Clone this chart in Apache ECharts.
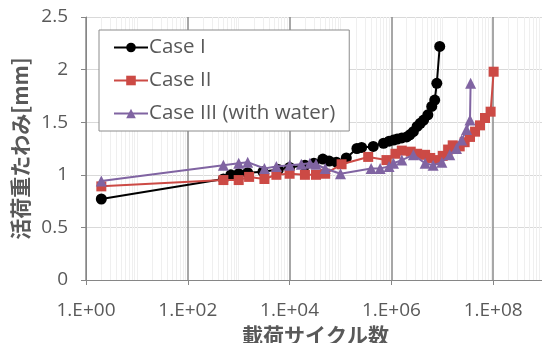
<!DOCTYPE html>
<html><head><meta charset="utf-8">
<script src="https://cdn.jsdelivr.net/npm/echarts@6/dist/echarts.min.js"></script>
<style>html,body{margin:0;padding:0;background:#fff;overflow:hidden;width:542px;height:343px}#c{width:595px;height:343px}</style>
</head><body><div id="c"></div>
<script>
var seriesNames = ['Case I', 'Case II', 'Case III (with water)'];
var xTitle = '載荷サイクル数';
var yTitle = '活荷重たわみ[mm]';
var yTicks = [0, 0.5, 1, 1.5, 2, 2.5];

var case1Cycles = [2, 5e2, 7e2, 1e3, 1.5e3, 3e3, 6e3, 1e4, 2e4, 3e4, 4.5e4, 6e4, 8.3e4, 1.3e5, 2.1e5, 2.6e5, 4.4e5, 7e5, 9e5, 1.1e6, 1.3e6, 1.6e6, 2e6, 2.3e6, 2.7e6, 3.2e6, 3.7e6, 4.3e6, 5.2e6, 6.2e6, 7.1e6, 7.8e6, 8.9e6];
var case1Values = [0.77, 0.96, 1.0, 1.01, 1.02, 1.03, 1.05, 1.07, 1.09, 1.11, 1.15, 1.13, 1.12, 1.16, 1.25, 1.26, 1.27, 1.3, 1.32, 1.33, 1.34, 1.35, 1.36, 1.38, 1.41, 1.46, 1.49, 1.52, 1.57, 1.65, 1.71, 1.87, 2.22];

var case2Cycles = [2, 5e2, 1e3, 1.6e3, 3.2e3, 5.5e3, 1e4, 2e4, 3.3e4, 5e4, 1.05e5, 3.5e5, 8e5, 1.2e6, 1.6e6, 2.4e6, 3.2e6, 4.6e6, 5.8e6, 7.8e6, 1.02e7, 1.3e7, 1.6e7, 2.2e7, 2.75e7, 3.5e7, 4.4e7, 5.5e7, 6.9e7, 8.9e7, 1.02e8];
var case2Values = [0.89, 0.95, 0.95, 0.98, 0.96, 1.0, 1.01, 1.0, 1.0, 1.01, 1.1, 1.17, 1.14, 1.2, 1.23, 1.22, 1.2, 1.19, 1.16, 1.14, 1.18, 1.24, 1.28, 1.27, 1.31, 1.36, 1.41, 1.47, 1.54, 1.6, 1.98];

var case3Cycles = [2, 5e2, 1e3, 1.5e3, 3.2e3, 5.5e3, 1e4, 1.7e4, 2.5e4, 3.3e4, 5e4, 1e5, 4e5, 6e5, 9e5, 1.1e6, 1.6e6, 2.7e6, 4.6e6, 6.6e6, 9.8e6, 1.4e7, 1.9e7, 2.4e7, 3e7, 3.5e7, 3.6e7];
var case3Values = [0.94, 1.09, 1.11, 1.12, 1.06, 1.08, 1.09, 1.1, 1.11, 1.1, 1.06, 1.01, 1.06, 1.06, 1.08, 1.11, 1.14, 1.19, 1.11, 1.09, 1.12, 1.19, 1.25, 1.33, 1.43, 1.52, 1.87];

function pairs(xs, ys) { return xs.map(function (x, i) { return [x, ys[i]]; }); }

var minorLines = [];
for (var k = 0; k < 10; k++) {
  for (var m = 2; m <= 10; m++) {
    if (m === 10 && (k + 1) % 2 === 0) continue;
    minorLines.push({ xAxis: m * Math.pow(10, k) });
  }
}

var latin = '"Open Sans", "Noto Sans CJK JP", sans-serif';
var cjk = '"Noto Sans CJK JP", sans-serif';
var grey = '#595959';

var chart = echarts.init(document.getElementById('c'), null, { renderer: 'canvas' });
chart.setOption({
  animation: false,
  backgroundColor: '#ffffff',
  grid: { left: 86, top: 17, bottom: 63, right: 0, containLabel: false, outerBoundsMode: 'none' },
  legend: {
    orient: 'vertical', left: 99, top: 30, z: 20,
    data: seriesNames,
    backgroundColor: '#ffffff', borderColor: '#8c8c8c', borderWidth: 1,
    padding: [5, 14, 5, 14], itemGap: 8, itemWidth: 34, itemHeight: 12,
    textStyle: { color: grey, fontSize: 20.5, fontFamily: latin, lineHeight: 25, padding: [0, 0, 0, -4] }
  },
  xAxis: {
    type: 'log', logBase: 10, min: 1, max: 1e10, interval: 2,
    name: xTitle, nameLocation: 'middle', nameGap: 38,
    nameTextStyle: { color: grey, fontSize: 21, fontFamily: cjk, fontWeight: 'bold', padding: [0, 0, 0, -50] },
    axisLine: { show: true, lineStyle: { color: '#868686', width: 1 } },
    axisTick: { show: true, length: 5, lineStyle: { color: '#868686' } },
    axisLabel: {
      color: grey, fontSize: 19, fontFamily: latin, margin: 21,
      formatter: function (v) { var e = Math.round(Math.log10(v)); return '1.E+' + (e < 10 ? '0' + e : e); }
    },
    splitLine: { show: true, lineStyle: { color: '#8a8a8a', width: 1.5 } }
  },
  yAxis: {
    type: 'value', min: 0, max: 2.5, interval: 0.5,
    name: yTitle, nameLocation: 'middle', nameGap: 53, nameRotate: 90,
    nameTextStyle: { color: grey, fontSize: 21, fontFamily: cjk, fontWeight: 'bold' },
    axisLine: { show: true, lineStyle: { color: '#868686', width: 1 } },
    axisTick: { show: true, length: 5, lineStyle: { color: '#868686' } },
    axisLabel: { color: grey, fontSize: 19, fontFamily: latin, margin: 18,
      formatter: function (v) { return yTicks.indexOf(v) >= 0 ? String(v) : ''; } },
    splitLine: { show: true, lineStyle: { color: '#d9d9d9', width: 1 } }
  },
  series: [
    {
      type: 'line', name: '_minor', data: [], silent: true, z: 0, zlevel: 0,
      markLine: { silent: true, symbol: 'none', z: 0, label: { show: false },
        lineStyle: { color: '#efefef', width: 1, type: 'solid' }, data: minorLines, animation: false }
    },
    {
      type: 'line', name: seriesNames[0], data: pairs(case1Cycles, case1Values),
      symbol: 'circle', symbolSize: 11, color: '#000000',
      lineStyle: { width: 2, color: '#000000', type: 'solid' }, itemStyle: { color: '#000000' }, z: 3
    },
    {
      type: 'line', name: seriesNames[1], data: pairs(case2Cycles, case2Values),
      symbol: 'rect', symbolSize: 10, color: '#cc4a45',
      lineStyle: { width: 2, color: '#cc4a45', type: 'solid' }, itemStyle: { color: '#cc4a45' }, z: 4
    },
    {
      type: 'line', name: seriesNames[2], data: pairs(case3Cycles, case3Values),
      symbol: 'triangle', symbolSize: 11, color: '#8064a2',
      lineStyle: { width: 2, color: '#8064a2', type: 'solid' }, itemStyle: { color: '#8064a2' }, z: 5
    }
  ]
});
</script></body></html>
